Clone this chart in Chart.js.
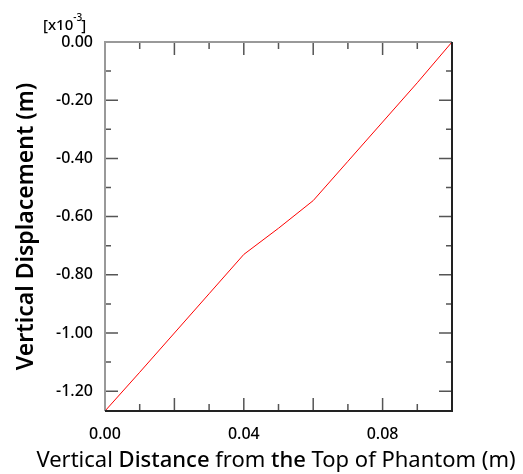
<!DOCTYPE html>
<html>
<head>
<meta charset="utf-8">
<script src="https://cdn.jsdelivr.net/npm/chart.js@4"></script>
<style>
  html, body { margin: 0; padding: 0; background: #fff; }
  #wrap { width: 523px; height: 474px; }
</style>
</head>
<body>
<div id="wrap"><canvas id="c" width="523" height="474"></canvas></div>
<script>
// distance from top of phantom (m)
const distance = [0.0, 0.01, 0.02, 0.03, 0.04, 0.05, 0.06, 0.07, 0.08, 0.09, 0.1];
// vertical displacement (x10^-3 m)
const displacement = [-1.268, -1.135, -1.0, -0.865, -0.73, -0.64, -0.545, -0.41, -0.275, -0.14, 0.0];
const xTickValues = [0, 0.04, 0.08];
const yTickValues = [0, -0.2, -0.4, -0.6, -0.8, -1.0, -1.2];

const FONT = "'Noto Sans'";
const points = distance.map((d, i) => ({ x: d, y: displacement[i] }));

// x 标题分词（部分加粗）
const xTitleParts = [
  ["Vertical ", "400"], ["Distance", "500"], [" from ", "400"],
  ["the", "500"], [" Top of Phantom (m)", "400"],
];

// 内向刻度 + 边框 + 标题 + 指数标签
const framePlugin = {
  id: "frame",
  afterDraw(chart) {
    const { ctx, chartArea: a, scales } = chart;
    const xs = scales.x, ys = scales.y;
    ctx.save();
    ctx.lineWidth = 1.5;
    // x ticks every 0.01, longer every 0.02
    for (let k = 1; k < 10; k++) {
      const px = xs.getPixelForValue(k / 100);
      const len = k % 2 === 0 ? 13 : 7;
      ctx.strokeStyle = "#555";
      ctx.beginPath();
      ctx.moveTo(px, a.bottom); ctx.lineTo(px, a.bottom - len);
      ctx.moveTo(px, a.top); ctx.lineTo(px, a.top + len);
      ctx.stroke();
    }
    // y ticks every 0.1, longer every 0.2
    for (let k = 1; k <= 12; k++) {
      const py = ys.getPixelForValue(-k / 10);
      const len = k % 2 === 0 ? 13 : 6;
      ctx.strokeStyle = "#555";
      ctx.beginPath();
      ctx.moveTo(a.left, py); ctx.lineTo(a.left + len, py);
      ctx.moveTo(a.right, py); ctx.lineTo(a.right - len, py);
      ctx.stroke();
    }
    // frame
    ctx.lineWidth = 2;
    ctx.strokeStyle = "#999";
    ctx.beginPath();
    ctx.moveTo(a.left, a.bottom); ctx.lineTo(a.left, a.top); ctx.lineTo(a.right, a.top);
    ctx.stroke();
    ctx.strokeStyle = "#222";
    ctx.beginPath();
    ctx.moveTo(a.right, a.top); ctx.lineTo(a.right, a.bottom); ctx.lineTo(a.left, a.bottom);
    ctx.stroke();

    ctx.fillStyle = "#000";
    ctx.textBaseline = "alphabetic";
    ctx.textAlign = "left";

    // x title
    const xSize = 22;
    let total = 0;
    xTitleParts.forEach(([t, wgt]) => {
      ctx.font = wgt + " " + xSize + "px " + FONT;
      total += ctx.measureText(t).width;
    });
    let cx = 276 - total / 2;
    xTitleParts.forEach(([t, wgt]) => {
      ctx.font = wgt + " " + xSize + "px " + FONT;
      ctx.fillText(t, cx, 467);
      cx += ctx.measureText(t).width;
    });

    // y title
    ctx.save();
    ctx.translate(33, (a.top + a.bottom) / 2);
    ctx.rotate(-Math.PI / 2);
    ctx.textAlign = "center";
    ctx.font = "600 23px " + FONT;
    ctx.fillText("Vertical Displacement (m)", 0, 0);
    ctx.restore();

    // exponent label
    ctx.font = "500 15px " + FONT;
    ctx.fillText("[x10", 43, 30);
    const w = ctx.measureText("[x10").width;
    ctx.font = "500 10px " + FONT;
    ctx.fillText("-3", 43 + w, 21);
    ctx.font = "500 15px " + FONT;
    ctx.fillText("]", 43 + w + 8, 30);
    ctx.restore();
  }
};

new Chart(document.getElementById("c"), {
  type: "scatter",
  data: {
    datasets: [{
      data: points,
      showLine: true,
      borderColor: "#ff0000",
      borderWidth: 1,
      pointRadius: 0,
      tension: 0,
    }]
  },
  options: {
    responsive: false,
    animation: false,
    layout: { padding: { top: 42, right: 71, left: 0, bottom: 0 } },
    plugins: { legend: { display: false }, tooltip: { enabled: false } },
    scales: {
      x: {
        type: "linear",
        min: 0,
        max: 0.1,
        afterBuildTicks: (s) => { s.ticks = xTickValues.map((v) => ({ value: v })); },
        afterFit: (s) => { s.height = 63; },
        grid: { display: false, drawTicks: false },
        border: { display: false },
        ticks: {
          padding: 14,
          color: "#000",
          font: { family: FONT, size: 16, weight: "500" },
          callback: (v) => v.toFixed(2),
        },
      },
      y: {
        type: "linear",
        min: -1.268,
        max: 0,
        afterBuildTicks: (s) => { s.ticks = yTickValues.map((v) => ({ value: v })); },
        afterFit: (s) => { s.width = 105; },
        grid: { display: false, drawTicks: false },
        border: { display: false },
        ticks: {
          padding: 12,
          color: "#000",
          font: { family: FONT, size: 16, weight: "500" },
          callback: (v) => v.toFixed(2),
        },
      },
    },
  },
  plugins: [framePlugin],
});
</script>
</body>
</html>
